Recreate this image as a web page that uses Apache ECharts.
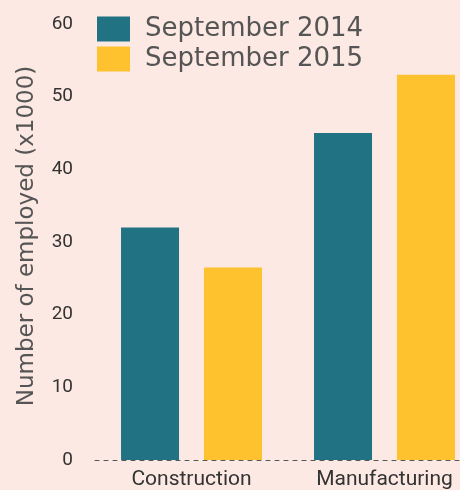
<!DOCTYPE html>
<html lang="en">
<head>
    <meta charset="UTF-8">
    <title>Employment</title>
    <style>
        html, body { margin: 0; padding: 0; background: #ffffff; overflow: hidden; }
        #wrap { width: 460px; height: 490px; background: #fde9e3; overflow: hidden; }
        #main { width: 481px; height: 490px; }
    </style>
</head>
<body>
    <div id="wrap"><div id="main"></div></div>
</body>
<script src="https://cdn.jsdelivr.net/npm/echarts@6/dist/echarts.min.js"></script>
<script>
    var categories = ['Construction', 'Manufacturing'];
    var seriesNames = ['September 2014', 'September 2015'];
    var sep2014 = [32, 45];
    var sep2015 = [26.5, 53];
    var yTicks = [0, 10, 20, 30, 40, 50, 60];

    var myChart = echarts.init(document.getElementById('main'));
    var option = {
        animation: false,
        color: ['#217383', '#fec22f'],
        legend: {
            data: seriesNames,
            orient: 'vertical',
            left: 97,
            top: 14,
            padding: 0,
            itemWidth: 33,
            itemHeight: 25,
            itemGap: 0,
            icon: 'rect',
            textStyle: {
                fontFamily: 'DejaVu Sans',
                fontSize: 26,
                lineHeight: 30,
                color: '#555',
                padding: [0, 0, 0, 10]
            }
        },
        grid: {
            left: 95,
            top: 24,
            right: 0,
            height: 439
        },
        xAxis: {
            type: 'category',
            data: categories,
            axisLine: {
                show: true,
                lineStyle: { color: '#555', type: [4, 5], width: 1 }
            },
            axisTick: { show: false },
            axisLabel: {
                fontFamily: 'Roboto',
                fontSize: 21,
                color: '#333',
                margin: 9
            }
        },
        yAxis: {
            type: 'value',
            min: yTicks[0],
            max: yTicks[yTicks.length - 1],
            interval: 10,
            name: 'Number of employed (x1000)',
            nameLocation: 'middle',
            nameGap: 56,
            nameTextStyle: {
                fontFamily: 'DejaVu Sans',
                fontSize: 23,
                color: '#555',
                padding: [0, 0, 0, 12]
            },
            axisLine: { show: false },
            axisTick: { show: false },
            splitLine: { show: false },
            axisLabel: {
                fontFamily: 'Roboto',
                fontSize: 19,
                color: '#333',
                margin: 22
            }
        },
        series: [{
            name: seriesNames[0],
            type: 'bar',
            data: sep2014,
            barWidth: 58,
            barGap: '43%'
        }, {
            name: seriesNames[1],
            type: 'bar',
            data: sep2015,
            barWidth: 58,
            barGap: '43%'
        }]
    };
    myChart.setOption(option);
</script>
</html>
